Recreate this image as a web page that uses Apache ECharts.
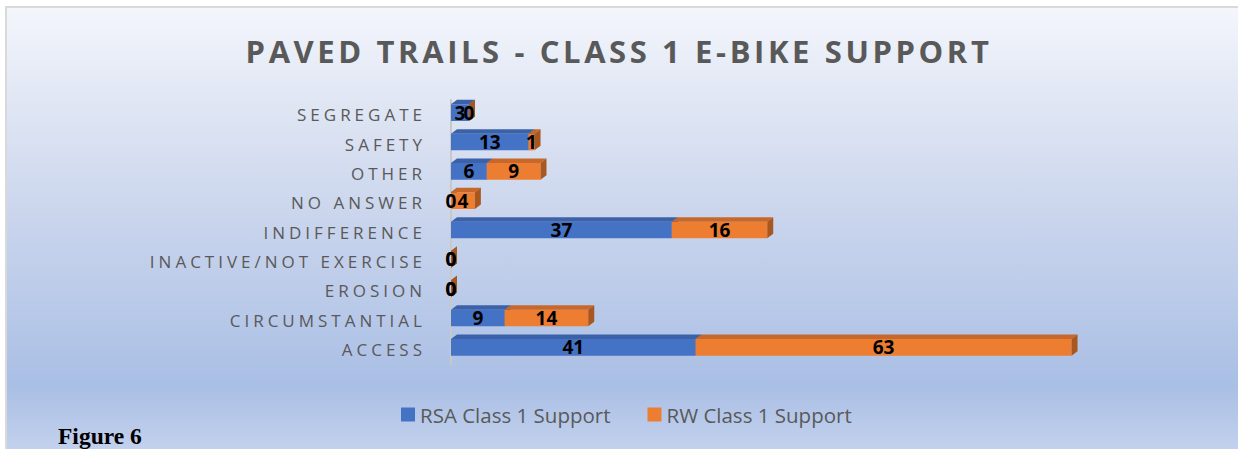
<!DOCTYPE html>
<html>
<head>
<meta charset="utf-8">
<title>Paved Trails - Class 1 E-Bike Support</title>
<script src="https://cdn.jsdelivr.net/npm/echarts@6/dist/echarts.min.js"></script>
<style>
  html, body { margin: 0; padding: 0; background: #fff; }
  #chart { width: 1238px; height: 449px; }
</style>
</head>
<body>
<div id="chart"></div>
<script>
// categories bottom -> top, same order as the axis draws them
var categories = ['ACCESS', 'CIRCUMSTANTIAL', 'EROSION', 'INACTIVE/NOT EXERCISE', 'INDIFFERENCE', 'NO ANSWER', 'OTHER', 'SAFETY', 'SEGREGATE'];
var rsaValues = [41, 9, 0, 0, 37, 0, 6, 13, 3];
var rwValues = [63, 14, 0, 0, 16, 4, 9, 1, 0];
var seriesNames = ['RSA Class 1 Support', 'RW Class 1 Support'];
var titleText = 'PAVED TRAILS - CLASS 1 E-BIKE SUPPORT';

var faces = [
    { front: '#4472c4', top: '#3b62a9', side: '#2f5292' },
    { front: '#ed7d31', top: '#c8672a', side: '#a9561f' }
];

// start / end of every segment, stacked left to right
function segments(values, base) {
    return values.map(function (v, i) {
        var s = base ? base[i] : 0;
        return [i, s, s + v, v];
    });
}
var rsaData = segments(rsaValues);
var rwData = segments(rwValues, rsaValues);

function makeRender(face) {
    return function (params, api) {
        var idx = api.value(0), s = api.value(1), e = api.value(2), v = api.value(3);
        var p0 = api.coord([s, idx]);
        var p1 = api.coord([e, idx]);
        var band = api.size([0, 1])[1];
        var fh = band * 0.57;
        var cy = p0[1] - 2;
        var y0 = cy - fh / 2, y1 = cy + fh / 2;
        var dx = 6, dy = 4.5;
        var children = [];
        if (p1[0] > p0[0]) {
            children.push({
                type: 'rect',
                shape: { x: p0[0], y: y0, width: p1[0] - p0[0], height: fh },
                style: { fill: face.front }
            });
            children.push({
                type: 'polygon',
                shape: { points: [[p0[0], y0], [p0[0] + dx, y0 - dy], [p1[0] + dx, y0 - dy], [p1[0], y0]] },
                style: { fill: face.top }
            });
        }
        children.push({
            type: 'polygon',
            shape: { points: [[p1[0], y0], [p1[0] + dx, y0 - dy], [p1[0] + dx, y1 - dy], [p1[0], y1]] },
            style: { fill: face.side }
        });
        children.push({
            type: 'text',
            style: {
                text: String(v),
                x: v === 0 ? p0[0] : (p0[0] + p1[0]) / 2,
                y: cy,
                align: 'center',
                verticalAlign: 'middle',
                font: 'bold 19px "Open Sans"',
                fill: '#000'
            },
            z2: 10
        });
        return { type: 'group', children: children };
    };
}

var chart = echarts.init(document.getElementById('chart'), null, { renderer: 'svg' });

var option = {
    animation: false,
    backgroundColor: '#ffffff',
    title: {
        text: titleText,
        left: 'center',
        top: 30,
        textStyle: {
            fontFamily: 'Open Sans',
            fontWeight: 'bold',
            fontSize: 31,
            color: '#595959'
        }
    },
    legend: {
        left: 401,
        top: 404,
        padding: 0,
        itemWidth: 14,
        itemHeight: 14,
        itemGap: 37,
        icon: 'rect',
        textStyle: { fontFamily: 'Open Sans', fontSize: 20.5, color: '#595959' },
        data: seriesNames
    },
    graphic: [
        {
            type: 'rect',
            silent: true,
            z: -10,
            shape: { x: 6, y: 7, width: 1240, height: 450 },
            style: {
                stroke: '#d9d9d9',
                lineWidth: 2,
                fill: new echarts.graphic.LinearGradient(0, 0, 0, 1, [
                    { offset: 0, color: '#f4f6fc' },
                    { offset: 0.2, color: '#e1e7f4' },
                    { offset: 0.5, color: '#c7d3ec' },
                    { offset: 0.84, color: '#aabfe5' },
                    { offset: 1, color: '#c5d3ee' }
                ])
            }
        },
        {
            type: 'text',
            left: 58,
            top: 424,
            style: {
                text: 'Figure 6',
                font: 'bold 23.5px "Liberation Serif"',
                fill: '#000'
            }
        }
    ],
    grid: { left: 451, top: 100, width: 716, height: 264 },
    xAxis: {
        type: 'value',
        min: 0,
        max: 120,
        show: false
    },
    yAxis: {
        type: 'category',
        data: categories,
        offset: 4,
        axisTick: { show: false },
        axisLine: { lineStyle: { color: '#c8c8c8', width: 2 } },
        axisLabel: {
            margin: 21,
            fontFamily: 'Open Sans',
            fontSize: 17,
            color: '#595959',
            padding: [3, 0, 0, 0]
        }
    },
    series: [
        {
            name: seriesNames[0],
            type: 'custom',
            renderItem: makeRender(faces[0]),
            itemStyle: { color: faces[0].front },
            encode: { x: [1, 2], y: 0 },
            data: rsaData
        },
        {
            name: seriesNames[1],
            type: 'custom',
            renderItem: makeRender(faces[1]),
            itemStyle: { color: faces[1].front },
            encode: { x: [1, 2], y: 0 },
            data: rwData
        }
    ]
};

chart.setOption(option);

// spaced caps for the title and the category labels
function spaceLetters() {
    var texts = document.querySelectorAll('#chart text');
    texts.forEach(function (t) {
        var s = t.textContent;
        if (s === titleText || categories.indexOf(s) >= 0) {
            var sp = s === titleText ? '3.6px' : '4px';
            t.setAttribute('letter-spacing', sp);
            t.style.letterSpacing = sp;
        }
    });
}
chart.on('finished', spaceLetters);
spaceLetters();
setTimeout(spaceLetters, 50);
setTimeout(spaceLetters, 300);
</script>
</body>
</html>
